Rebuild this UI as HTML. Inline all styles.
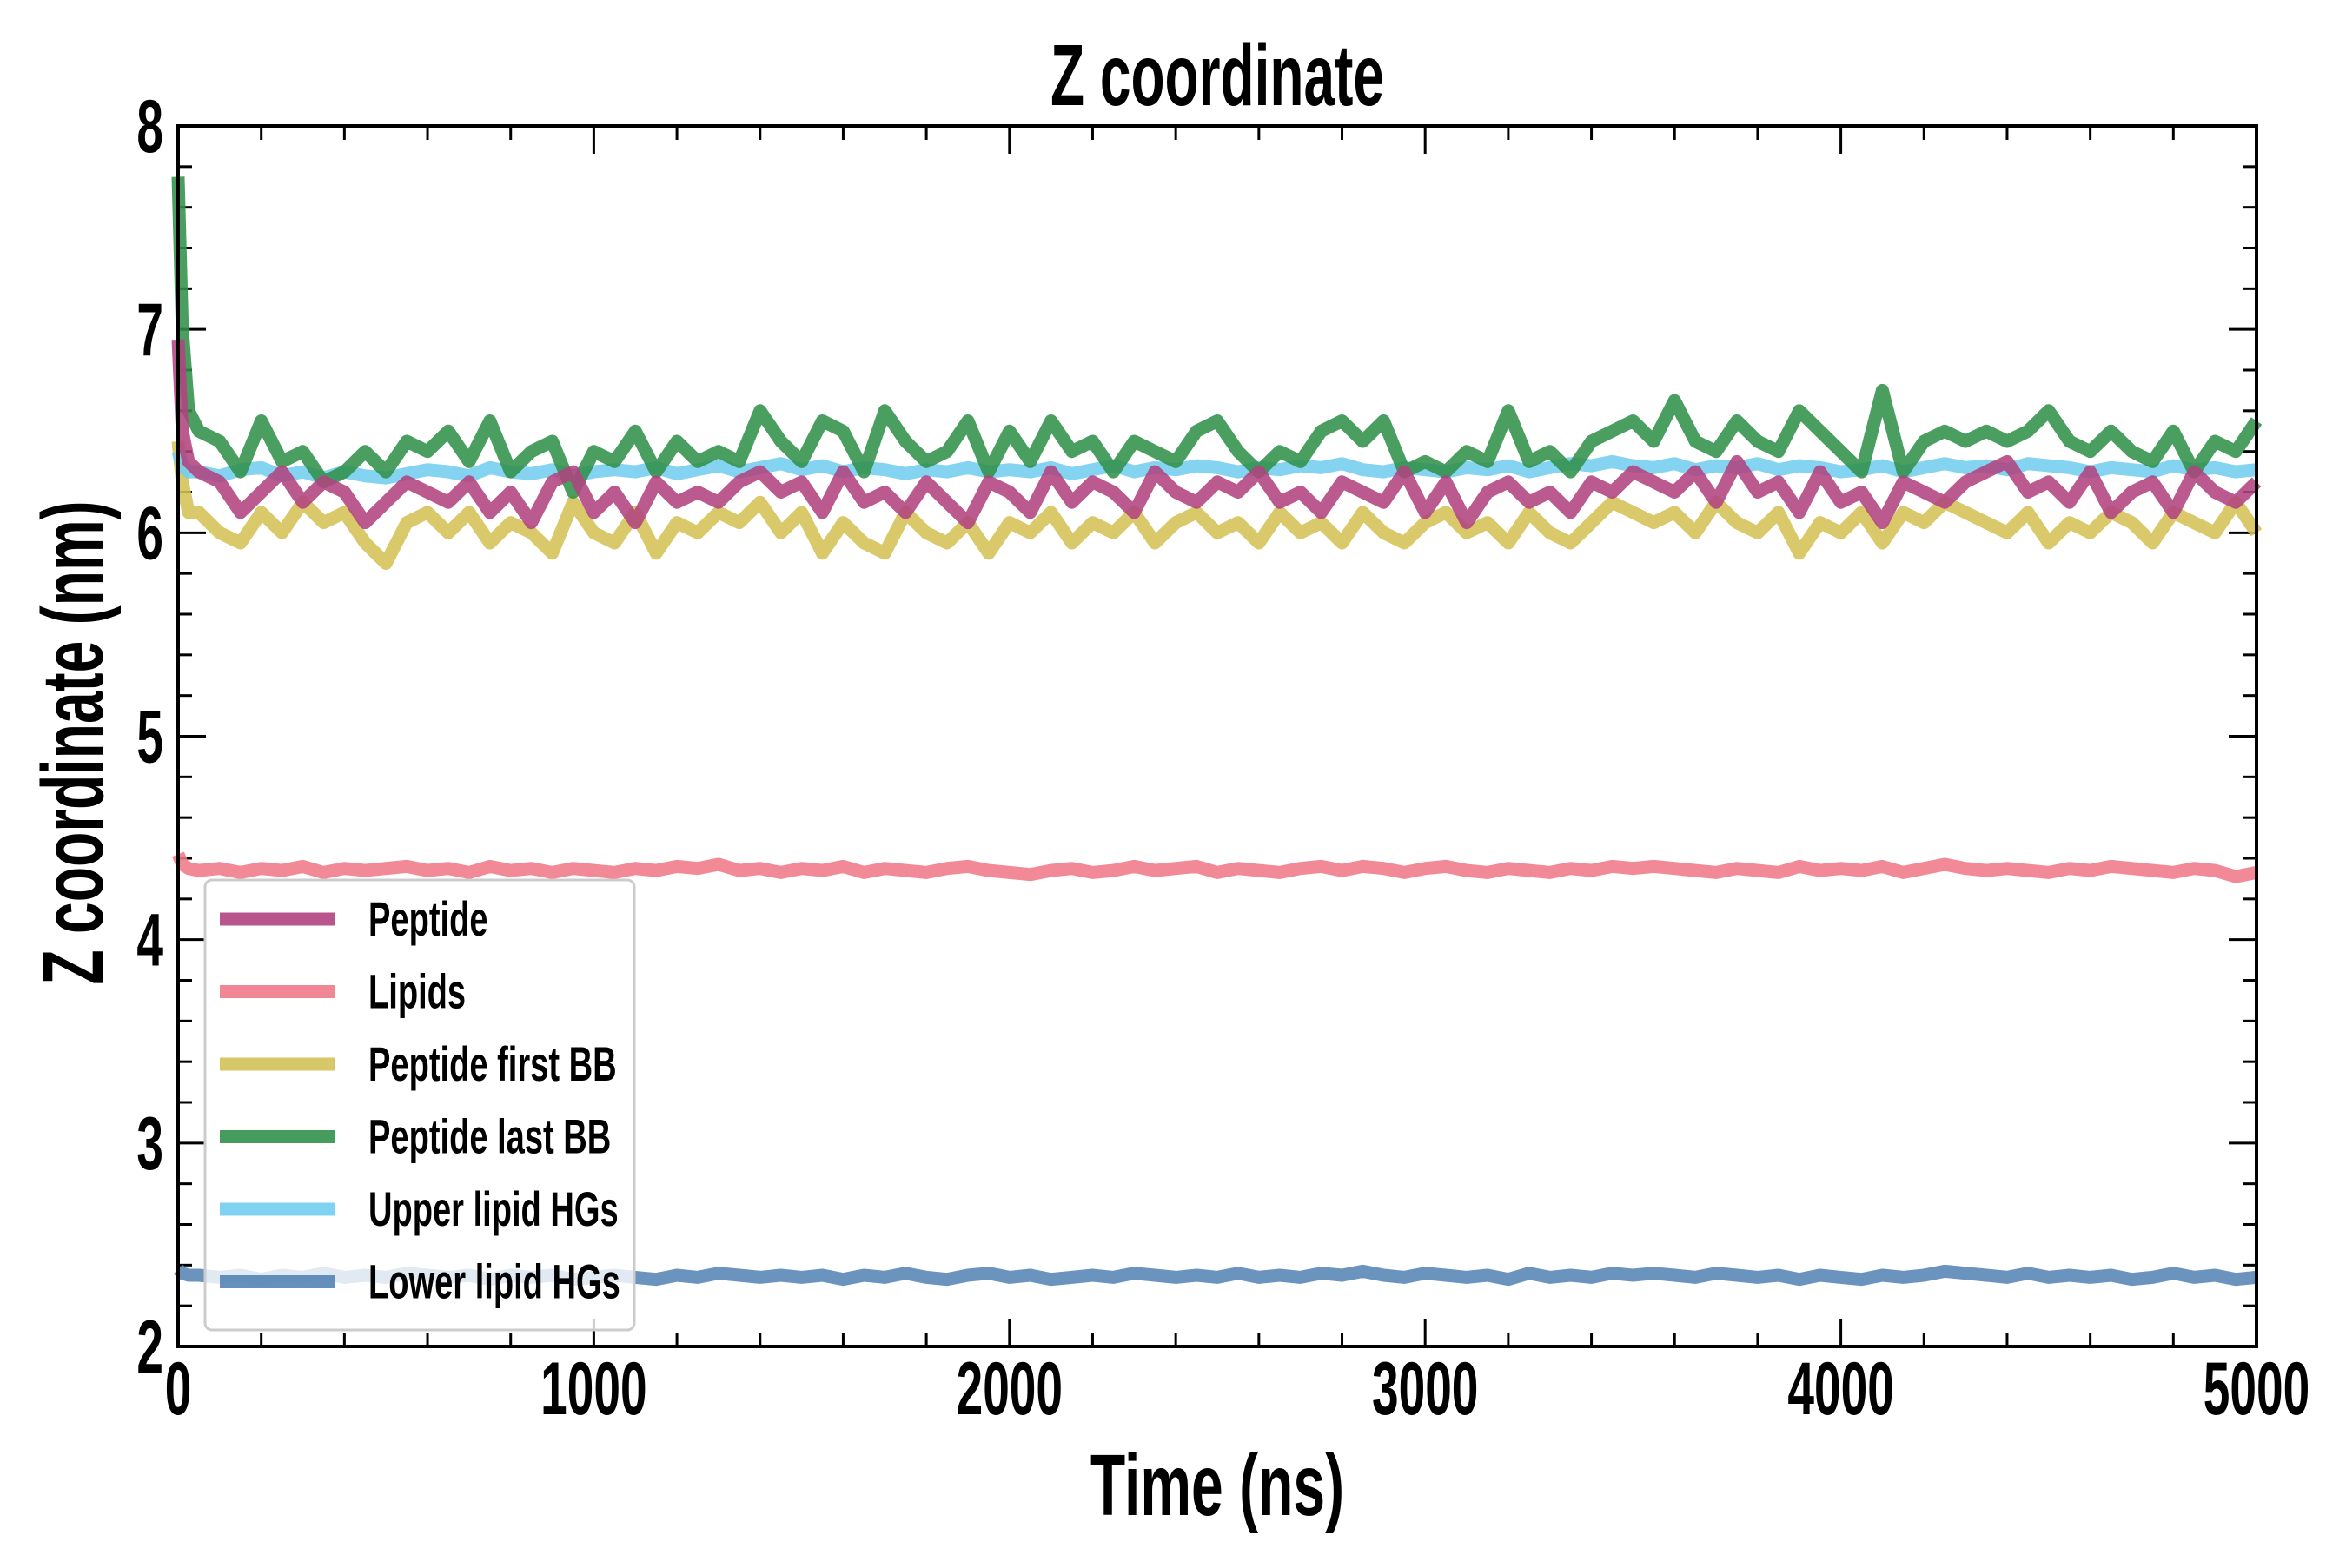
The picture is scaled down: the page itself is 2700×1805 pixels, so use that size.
<!DOCTYPE html>
<html><head><meta charset="utf-8"><style>
html,body{margin:0;padding:0;background:#fff}
svg text{font-family:"Liberation Sans",sans-serif;font-weight:bold;fill:#000}
</style></head><body>
<svg id="chart" width="2700" height="1800" viewBox="0 0 2700 1800" xmlns="http://www.w3.org/2000/svg">
<g id="ticks"></g>
<g id="plot"></g>
<rect x="205" y="145" width="2392" height="1405" fill="none" stroke="#000" stroke-width="4"/>
<text transform="translate(1401,121) scale(0.64,1)" font-size="100" text-anchor="middle">Z coordinate</text>
<text transform="translate(1401,1744) scale(0.66,1)" font-size="100" text-anchor="middle">Time (ns)</text>
<text transform="translate(118,855) rotate(-90) scale(0.66,1)" font-size="100" text-anchor="middle">Z coordinate (nm)</text>
<g id="labels"></g>
<g id="legend"></g>
</svg>
<script>
const times = [0,10,25,50,100,150,200,250,300,350,400,450,500,550,600,650,700,750,800,850,900,950,1000,1050,1100,1150,1200,1250,1300,1350,1400,1450,1500,1550,1600,1650,1700,1750,1800,1850,1900,1950,2000,2050,2100,2150,2200,2250,2300,2350,2400,2450,2500,2550,2600,2650,2700,2750,2800,2850,2900,2950,3000,3050,3100,3150,3200,3250,3300,3350,3400,3450,3500,3550,3600,3650,3700,3750,3800,3850,3900,3950,4000,4050,4100,4150,4200,4250,4300,4350,4400,4450,4500,4550,4600,4650,4700,4750,4800,4850,4900,4950,5000];
const peptide = [6.95,6.5,6.35,
6.3,6.25,6.1,6.2,6.3,6.15,6.25,6.2,6.05,6.15,
6.25,6.2,6.15,6.25,6.1,6.2,6.05,6.25,6.3,6.1,
6.2,6.05,6.25,6.15,6.2,6.15,6.25,6.3,6.2,6.25,
6.1,6.3,6.15,6.2,6.1,6.25,6.15,6.05,6.25,6.2,
6.1,6.3,6.15,6.25,6.2,6.1,6.3,6.2,6.15,6.25,
6.2,6.3,6.15,6.2,6.1,6.25,6.2,6.15,6.3,6.1,
6.25,6.05,6.2,6.25,6.15,6.2,6.1,6.25,6.2,6.3,
6.25,6.2,6.3,6.15,6.35,6.2,6.25,6.1,6.3,6.15,
6.2,6.05,6.25,6.2,6.15,6.25,6.3,6.35,6.2,6.25,
6.15,6.3,6.1,6.2,6.25,6.1,6.3,6.2,6.15,6.25];
const lipids = [4.42,4.37,4.35,
4.34,4.35,4.33,4.35,4.34,4.36,4.33,4.35,4.34,4.35,
4.36,4.34,4.35,4.33,4.36,4.34,4.35,4.33,4.35,4.34,
4.33,4.35,4.34,4.36,4.35,4.37,4.34,4.35,4.33,4.35,
4.34,4.36,4.33,4.35,4.34,4.33,4.35,4.36,4.34,4.33,
4.32,4.34,4.35,4.33,4.34,4.36,4.34,4.35,4.36,4.33,
4.35,4.34,4.33,4.35,4.36,4.34,4.36,4.35,4.33,4.35,
4.36,4.34,4.33,4.35,4.34,4.33,4.35,4.34,4.36,4.35,
4.36,4.35,4.34,4.33,4.35,4.34,4.33,4.36,4.34,4.35,
4.34,4.36,4.33,4.35,4.37,4.35,4.34,4.35,4.34,4.33,
4.35,4.34,4.36,4.35,4.34,4.33,4.35,4.34,4.31,4.33];
const firstBB = [6.45,6.25,6.1,
6.1,6.0,5.95,6.1,6.0,6.15,6.05,6.1,5.95,5.85,
6.05,6.1,6.0,6.1,5.95,6.05,6.0,5.9,6.15,6.0,
5.95,6.1,5.9,6.05,6.0,6.1,6.05,6.15,6.0,6.1,
5.9,6.05,5.95,5.9,6.1,6.0,5.95,6.05,5.9,6.05,
6.0,6.1,5.95,6.05,6.0,6.1,5.95,6.05,6.1,6.0,
6.05,5.95,6.1,6.0,6.05,5.95,6.1,6.0,5.95,6.05,
6.1,6.0,6.05,5.95,6.1,6.0,5.95,6.05,6.15,6.1,
6.05,6.1,6.0,6.15,6.05,6.0,6.1,5.9,6.05,6.0,
6.1,5.95,6.1,6.05,6.15,6.1,6.05,6.0,6.1,5.95,
6.05,6.0,6.1,6.05,5.95,6.1,6.05,6.0,6.15,6.0];
const lastBB = [7.75,7.0,6.6,
6.5,6.45,6.3,6.55,6.35,6.4,6.25,6.3,6.4,6.3,
6.45,6.4,6.5,6.35,6.55,6.3,6.4,6.45,6.2,6.4,
6.35,6.5,6.3,6.45,6.35,6.4,6.35,6.6,6.45,6.35,
6.55,6.5,6.3,6.6,6.45,6.35,6.4,6.55,6.3,6.5,
6.35,6.55,6.4,6.45,6.3,6.45,6.4,6.35,6.5,6.55,
6.4,6.3,6.4,6.35,6.5,6.55,6.45,6.55,6.3,6.35,
6.3,6.4,6.35,6.6,6.35,6.4,6.3,6.45,6.5,6.55,
6.45,6.65,6.45,6.4,6.55,6.45,6.4,6.6,6.5,6.4,
6.3,6.7,6.3,6.45,6.5,6.45,6.5,6.45,6.5,6.6,
6.45,6.4,6.5,6.4,6.35,6.5,6.3,6.45,6.4,6.55];
const upperHG = [6.4,6.33,6.3,
6.3,6.28,6.31,6.32,6.28,6.3,6.27,6.3,6.28,6.27,
6.29,6.31,6.3,6.28,6.32,6.3,6.29,6.31,6.28,6.3,
6.31,6.3,6.32,6.29,6.31,6.33,6.3,6.32,6.34,6.31,
6.33,6.3,6.32,6.31,6.29,6.31,6.3,6.32,6.3,6.31,
6.3,6.32,6.29,6.31,6.33,6.3,6.32,6.31,6.33,6.32,
6.3,6.32,6.31,6.33,6.32,6.34,6.31,6.3,6.32,6.31,
6.3,6.32,6.31,6.33,6.3,6.32,6.34,6.33,6.35,6.33,
6.32,6.34,6.31,6.33,6.32,6.34,6.31,6.33,6.32,6.3,
6.31,6.33,6.3,6.32,6.34,6.32,6.33,6.31,6.34,6.33,
6.32,6.3,6.32,6.31,6.3,6.33,6.31,6.32,6.3,6.31];
const lowerHG = [2.38,2.36,2.35,
2.35,2.34,2.35,2.33,2.35,2.34,2.36,2.34,2.35,2.34,
2.36,2.35,2.34,2.35,2.33,2.35,2.34,2.35,2.33,2.34,
2.35,2.34,2.33,2.35,2.34,2.36,2.35,2.34,2.35,2.34,
2.35,2.33,2.35,2.34,2.36,2.34,2.33,2.35,2.36,2.34,
2.35,2.33,2.34,2.35,2.34,2.36,2.35,2.34,2.35,2.34,
2.36,2.34,2.35,2.34,2.36,2.35,2.37,2.35,2.34,2.36,
2.35,2.34,2.35,2.33,2.36,2.34,2.35,2.34,2.36,2.35,
2.36,2.35,2.34,2.36,2.35,2.34,2.35,2.33,2.35,2.34,
2.33,2.35,2.34,2.35,2.37,2.36,2.35,2.34,2.36,2.34,
2.35,2.34,2.35,2.33,2.34,2.36,2.34,2.35,2.33,2.34];
const xTickLabels = [0,1000,2000,3000,4000,5000];
const yTickLabels = [2,3,4,5,6,7,8];
const seriesNames = ["Peptide","Lipids","Peptide first BB","Peptide last BB","Upper lipid HGs","Lower lipid HGs"];

const NS='http://www.w3.org/2000/svg';
const X0=205,X1=2597,Y0=1550,Y1=145,XMIN=0,XMAX=5000,YMIN=2,YMAX=8;
function xs(v){return X0+(v-XMIN)/(XMAX-XMIN)*(X1-X0);}
function ys(v){return Y0-(v-YMIN)/(YMAX-YMIN)*(Y0-Y1);}
function mk(tag,attrs,parent){const e=document.createElementNS(NS,tag);for(const k in attrs)e.setAttribute(k,attrs[k]);parent.appendChild(e);return e;}

const tg=document.getElementById('ticks');
for(let v=XMIN;v<=XMAX;v+=200){
  const major=v%1000===0;const L=major?32:16;const x=xs(v);
  const t1=mk('line',{x1:x,x2:x,y1:Y0,y2:Y0-L,stroke:'#000','stroke-width':3},tg);
  
  
  const t2=mk('line',{x1:x,x2:x,y1:Y1,y2:Y1+L,stroke:'#000','stroke-width':3},tg);
  
  
}
for(let i=0;i<=30;i++){
  const v=YMIN+i*0.2;const major=i%5===0;const L=major?32:16;const y=ys(v);
  const t1=mk('line',{x1:X0,x2:X0+L,y1:y,y2:y,stroke:'#000','stroke-width':3},tg);
  
  
  const t2=mk('line',{x1:X1,x2:X1-L,y1:y,y2:y,stroke:'#000','stroke-width':3},tg);
  
  
}
const lg=document.getElementById('labels');
xTickLabels.forEach(v=>{
  const t=mk('text',{transform:'translate('+xs(v)+',1628) scale(0.64,1)','font-size':86,'text-anchor':'middle'},lg);
  t.textContent=v;
  
  
});
yTickLabels.forEach(v=>{
  const t=mk('text',{transform:'translate(188,'+(ys(v)+30)+') scale(0.64,1)','font-size':86,'text-anchor':'end'},lg);
  t.textContent=v;
  
  
});

const colors=['#b0437f','#ef7a88','#d4c155','#31914a','#72cdef','#5584b5'];
const allSeries=[peptide,lipids,firstBB,lastBB,upperHG,lowerHG];
const slugs=['peptide','lipids','peptide-first-bb','peptide-last-bb','upper-lipid-hgs','lower-lipid-hgs'];
const drawOrder=[2,4,3,0,1,5];
const pg=document.getElementById('plot');
drawOrder.forEach(si=>{
  const vals=allSeries[si];
  let d='';
  for(let i=0;i<vals.length&&i<times.length;i++){d+=(i?'L':'M')+xs(times[i]).toFixed(1)+','+ys(vals[i]).toFixed(1);}
  const p=mk('path',{d:d,fill:'none',stroke:colors[si],'stroke-width':15,'stroke-linejoin':'round','stroke-linecap':'butt','stroke-opacity':0.88},pg);
  
  
});

const leg=document.getElementById('legend');
const box=mk('rect',{x:236,y:1013,width:494,height:518,rx:8,fill:'#fff','fill-opacity':0.8,stroke:'#ccc','stroke-width':3},leg);


seriesNames.forEach((n,i)=>{
  const y=1058+i*83.5;
  const l=mk('line',{x1:253,x2:385,y1:y,y2:y,stroke:colors[i],'stroke-width':15,'stroke-opacity':0.9},leg);
  
  
  const t=mk('text',{transform:'translate(424,'+(y+19)+') scale(0.68,1)','font-size':56},leg);
  t.textContent=n;
  
  
});
</script>
</body></html>
